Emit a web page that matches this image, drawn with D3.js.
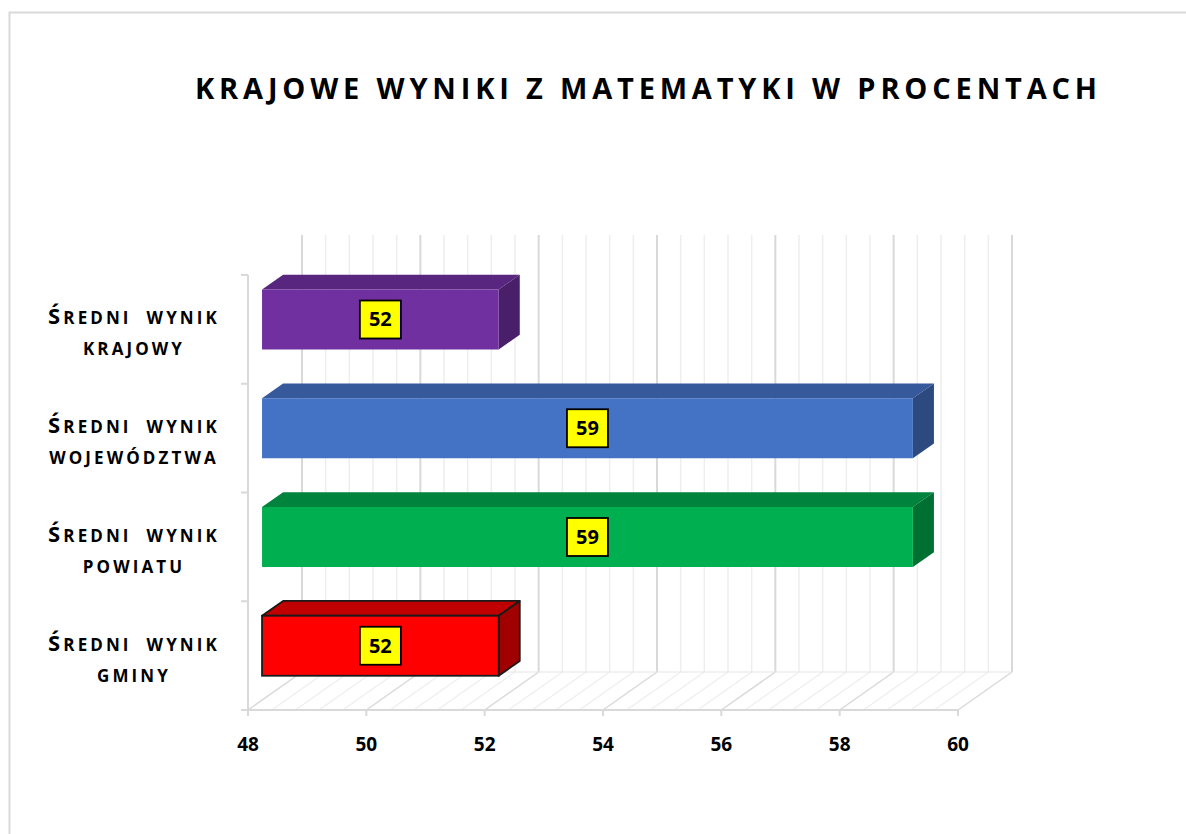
<!DOCTYPE html>
<html lang="pl">
<head>
  <meta charset="UTF-8">
  <title>Krajowe wyniki z matematyki</title>
  <script src="https://d3js.org/d3.v7.min.js"></script>
  <style>
    body { margin: 0; background: #fff; font-family: "Open Sans", Arial, sans-serif; }
    .tick-label { font-size: 19px; font-weight: bold; }
    .cat-label { font-weight: bold; }
  </style>
</head>
<body>
  <svg id="chart" width="1186" height="834"></svg>
  <script>
    // data
    const title = "KRAJOWE WYNIKI Z MATEMATYKI W PROCENTACH";
    const categories = ["Średni wynik krajowy", "Średni wynik województwa", "Średni wynik powiatu", "Średni wynik gminy"];
    const values = [52, 59, 59, 52];
    const frontColors = ["#7030A0", "#4472C4", "#00B050", "#FF0000"];
    const topColors = ["#58267E", "#35599A", "#00833C", "#C00000"];
    const sideColors = ["#4A1F69", "#2C4A80", "#006F32", "#A00000"];
    const outlined = [false, false, false, true];
    const xTicks = [48, 50, 52, 54, 56, 58, 60];

    const svg = d3.select("#chart");

    // chart frame
    svg.append("rect")
      .attr("x", 9.5).attr("y", 12.5)
      .attr("width", 1200).attr("height", 900)
      .attr("fill", "none").attr("stroke", "#d9d9d9").attr("stroke-width", 2);

    svg.append("text")
      .attr("x", 646).attr("y", 99)
      .attr("text-anchor", "middle")
      .attr("font-size", 29).attr("font-weight", "bold")
      .attr("textLength", 902).attr("lengthAdjust", "spacing")
      .text(title);

    // front plane scales + 3d depth offsets
    const x = d3.scaleLinear().domain([48, 60]).range([248, 958]);
    const y = d3.scaleBand().domain(categories).range([275, 710]);
    const depth = { dx: 54, dy: -38 };
    const f1 = 0.26, f2 = 0.65;   // bar front / back depth fractions
    const barH = 60;

    const g = svg.append("g");

    // back wall gridlines (minor every 0.4, major every 2)
    const minor = d3.range(48, 60.001, 0.4).map(v => +v.toFixed(1));
    const yTop = y.range()[0] + depth.dy - 2, yBack = y.range()[1] + depth.dy;
    minor.forEach(v => {
      const major = Math.abs(v / 2 - Math.round(v / 2)) < 1e-6;
      g.append("line")
        .attr("x1", x(v) + depth.dx).attr("x2", x(v) + depth.dx)
        .attr("y1", yTop).attr("y2", yBack)
        .attr("stroke", major ? "#d9d9d9" : "#eeeeee")
        .attr("stroke-width", major ? 2 : 1.5);
      // floor diagonals
      g.append("line")
        .attr("x1", x(v)).attr("y1", y.range()[1])
        .attr("x2", x(v) + depth.dx).attr("y2", yBack)
        .attr("stroke", major ? "#d9d9d9" : "#eeeeee")
        .attr("stroke-width", major ? 1.5 : 1.2);
    });
    // floor back edge
    g.append("line")
      .attr("x1", x(48) + depth.dx).attr("x2", x(60) + depth.dx)
      .attr("y1", yBack).attr("y2", yBack)
      .attr("stroke", "#e6e6e6").attr("stroke-width", 1.2);

    // value axis (front)
    const axisColor = "#d9d9d9";
    g.append("line")
      .attr("x1", x(48)).attr("x2", x(60))
      .attr("y1", y.range()[1]).attr("y2", y.range()[1])
      .attr("stroke", axisColor).attr("stroke-width", 2);
    xTicks.forEach(t => {
      g.append("line")
        .attr("x1", x(t)).attr("x2", x(t))
        .attr("y1", y.range()[1]).attr("y2", y.range()[1] + 6)
        .attr("stroke", axisColor).attr("stroke-width", 2);
      g.append("text")
        .attr("class", "tick-label")
        .attr("x", x(t)).attr("y", 751)
        .attr("text-anchor", "middle")
        .text(t);
    });

    // category axis (front)
    g.append("line")
      .attr("x1", x(48)).attr("x2", x(48))
      .attr("y1", y.range()[0]).attr("y2", y.range()[1])
      .attr("stroke", axisColor).attr("stroke-width", 2);
    const bounds = categories.map(c => y(c)).concat([y.range()[1]]);
    bounds.forEach(b => {
      g.append("line")
        .attr("x1", x(48) - 7).attr("x2", x(48))
        .attr("y1", b).attr("y2", b)
        .attr("stroke", axisColor).attr("stroke-width", 2);
    });

    // category labels: small caps look
    categories.forEach(c => {
      const cy = y(c) + y.bandwidth() / 2;
      const words = c.toUpperCase().split(" ");
      const line1 = words.slice(0, 2).join("\u00a0 ");
      const line2 = words.slice(2).join(" ");
      const t1 = g.append("text").attr("class", "cat-label")
        .attr("x", 134).attr("y", cy - 5)
        .attr("text-anchor", "middle")
        .attr("letter-spacing", 3.1);
      t1.append("tspan").attr("font-size", 22).text(line1[0]);
      t1.append("tspan").attr("font-size", 17).text(line1.slice(1));
      g.append("text").attr("class", "cat-label")
        .attr("x", 134).attr("y", cy + 26)
        .attr("text-anchor", "middle")
        .attr("font-size", 17)
        .attr("letter-spacing", 3.1)
        .text(line2);
    });

    // 3d bars
    categories.forEach((c, i) => {
      const cy = y(c) + y.bandwidth() / 2;
      const xl = x(48), xr = x(values[i]);
      const yt = cy - barH / 2, yb = cy + barH / 2;
      const a1 = depth.dx * f1, b1 = depth.dy * f1;
      const a2 = depth.dx * f2, b2 = depth.dy * f2;
      const stroke = outlined[i] ? "#1a1a1a" : "none";
      const sw = outlined[i] ? 1.8 : 0;

      g.append("polygon")
        .attr("points", [[xl + a1, yt + b1], [xr + a1, yt + b1], [xr + a2, yt + b2], [xl + a2, yt + b2]].join(" "))
        .attr("fill", topColors[i]).attr("stroke", stroke).attr("stroke-width", sw)
        .attr("stroke-linejoin", "round");
      g.append("polygon")
        .attr("points", [[xr + a1, yt + b1], [xr + a2, yt + b2], [xr + a2, yb + b2], [xr + a1, yb + b1]].join(" "))
        .attr("fill", sideColors[i]).attr("stroke", stroke).attr("stroke-width", sw)
        .attr("stroke-linejoin", "round");
      g.append("rect")
        .attr("x", xl + a1).attr("y", yt + b1)
        .attr("width", xr - xl).attr("height", barH)
        .attr("fill", frontColors[i]).attr("stroke", stroke).attr("stroke-width", sw);

      // value label
      const lx = xl + a1 + (xr - xl) / 2, ly = cy + b1;
      g.append("rect")
        .attr("x", lx - 20.5).attr("y", ly - 19)
        .attr("width", 41).attr("height", 38)
        .attr("fill", "#FFFF00").attr("stroke", "#000").attr("stroke-width", 1.8);
      g.append("text")
        .attr("x", lx).attr("y", ly + 7)
        .attr("text-anchor", "middle")
        .attr("font-size", 20).attr("font-weight", "bold")
        .text(values[i]);
    });
  </script>
</body>
</html>
